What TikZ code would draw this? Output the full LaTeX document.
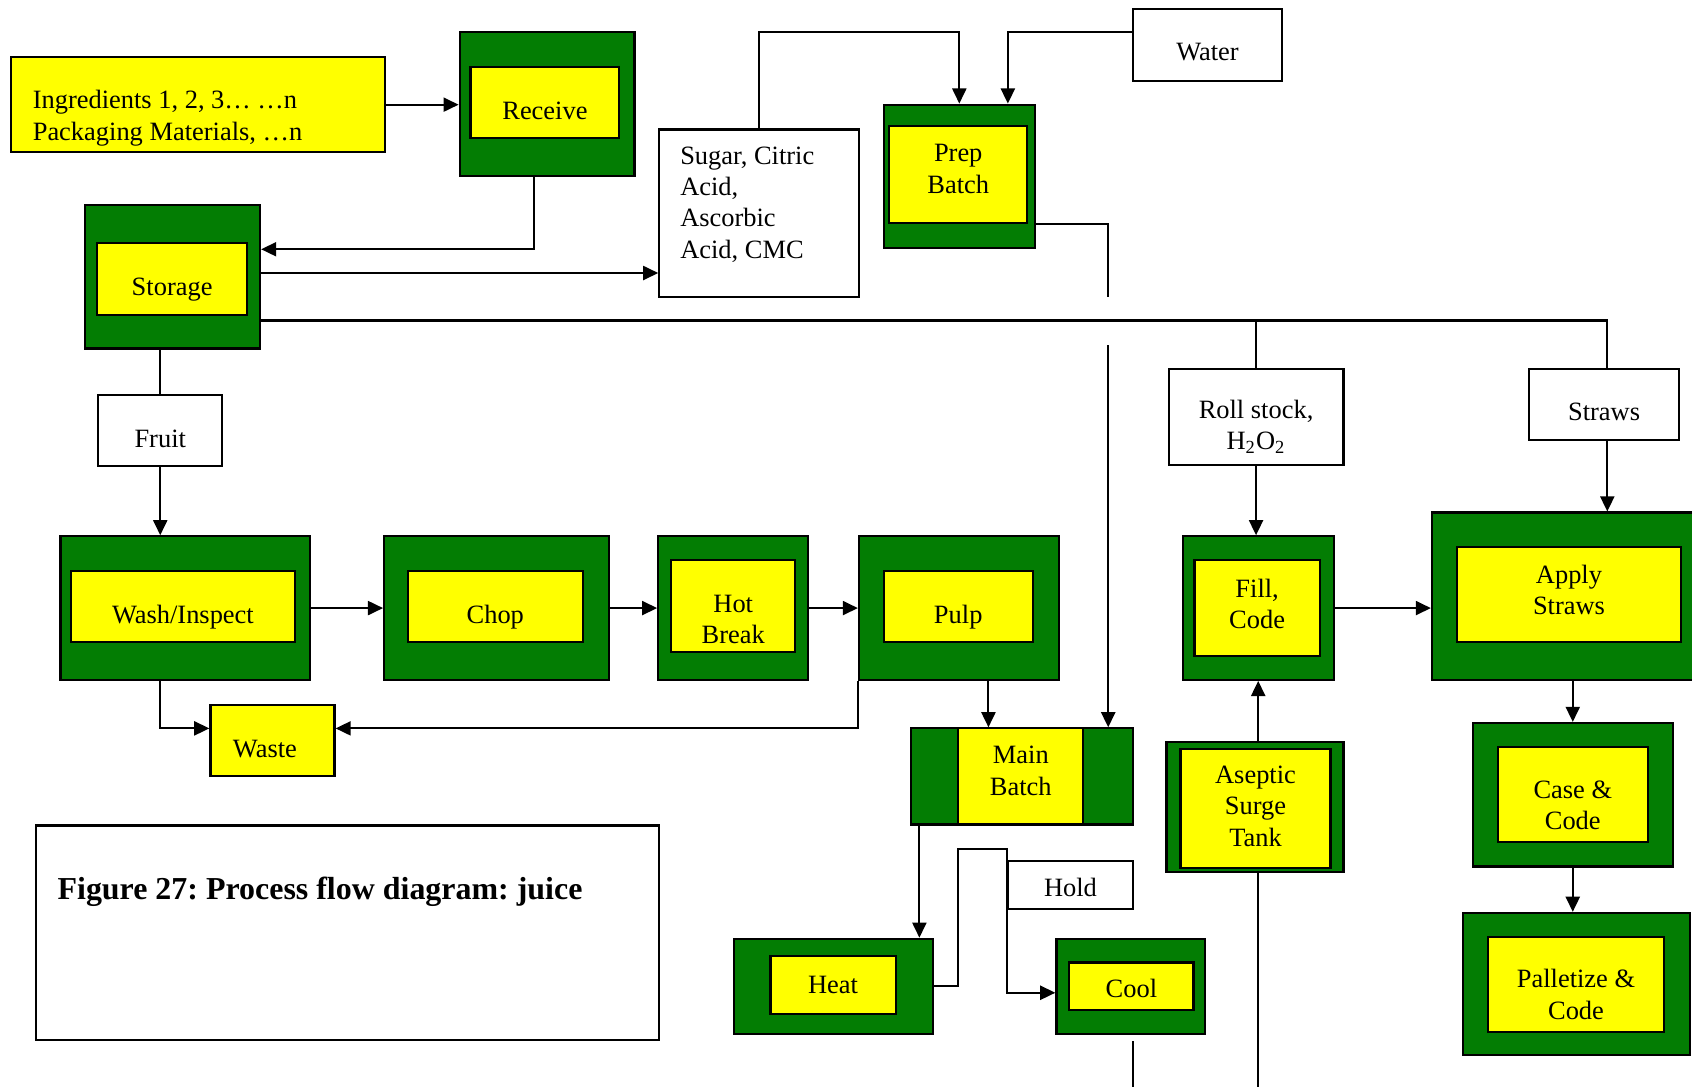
\documentclass[tikz,border=0pt]{standalone}
\usepackage{fontspec}
\setmainfont{Liberation Serif}
\usetikzlibrary{arrows.meta}
\frenchspacing
\definecolor{grn}{RGB}{3,125,3}
\definecolor{ylw}{RGB}{255,255,0}
\newcommand\mkbox[6]{%
 \pgfmathsetmacro\mkcx{(#3+#5)/2}%
 \pgfmathsetmacro\mkcy{(#4+#6)/2}%
 \pgfmathsetmacro\mkw{(#5-#3)/2}%
 \pgfmathsetmacro\mkh{(#6-#4)/2}%
 \node[#1, minimum width=\mkw pt, minimum height=\mkh pt] (#2) at (\mkcx,\mkcy) {};}
\newcommand\mkboxt[8]{%
 \pgfmathsetmacro\mkcx{(#3+#5)/2}%
 \pgfmathsetmacro\mkcy{(#4+#6)/2}%
 \pgfmathsetmacro\mkw{(#5-#3)/2}%
 \pgfmathsetmacro\mkh{(#6-#4)/2}%
 \node[#1, minimum width=\mkw pt, minimum height=\mkh pt, label={[lab,yshift=#8pt]center:{#7}}] (#2) at (\mkcx,\mkcy) {};}
\tikzset{
 outer/.style={draw=black, fill=grn, line width=1pt, inner sep=0pt},
 inner/.style={draw=black, fill=ylw, line width=1pt, inner sep=0pt},
 wbox/.style={draw=black, fill=white, line width=1pt, inner sep=0pt},
 lab/.style={align=center, inner sep=0pt, text=black},
 ln/.style={line width=0.95pt},
 arr/.style={line width=0.95pt, -{Triangle[length=7pt,width=6.5pt]}},
}
\begin{document}
\begin{tikzpicture}[x=0.5pt, y=-0.5pt, font=\fontsize{12.25}{14.5}\selectfont]
\useasboundingbox (0,0) rectangle (1568,1007);
% outer green boxes
\mkbox{outer}{recv}{426}{30}{588}{163}
\mkbox{outer}{stor}{79}{190}{241}{323}
\mkbox{outer}{prep}{819}{97}{959}{230}
\mkbox{outer}{wash}{56}{497}{287}{630}
\mkbox{outer}{chop}{356}{497}{564}{630}
\mkbox{outer}{hot}{610}{497}{749}{630}
\mkbox{outer}{pulp}{796}{497}{981}{630}
\mkbox{outer}{main}{844}{675}{1050}{764}
\mkbox{outer}{heat}{680}{870}{865}{958}
\mkbox{outer}{cool}{979}{870}{1117}{958}
\mkbox{outer}{asep}{1081}{688}{1245}{808}
\mkbox{outer}{fill}{1096}{497}{1236}{630}
\mkbox{outer}{apply}{1327}{475}{1575}{630}
\mkbox{outer}{case}{1365}{670}{1550}{803}
\mkbox{outer}{pallet}{1356}{846}{1566}{978}
% inner yellow boxes
\mkboxt{inner}{recvI}{436}{62}{574}{128}{Receive}{-4}
\mkboxt{inner}{storI}{90}{225}{229}{292}{Storage}{-4.75}
\mkboxt{inner}{prepI}{824}{117}{952}{207}{Prep\\Batch}{2.75}
\mkboxt{inner}{washI}{66}{529}{273}{595}{Wash/Inspect}{-5}
\mkboxt{inner}{chopI}{378}{529}{540}{595}{Chop}{-5}
\mkboxt{inner}{hotI}{622}{519}{737}{604}{Hot\\Break}{-6.25}
\mkboxt{inner}{pulpI}{819}{529}{957}{595}{Pulp}{-5}
\mkboxt{inner}{mainI}{888}{675}{1004}{764}{Main\\Batch}{2.5}
\mkboxt{inner}{heatI}{714}{886}{830}{940}{Heat}{0}
\mkboxt{inner}{coolI}{991}{892}{1106}{936}{Cool}{-1}
\mkboxt{inner}{asepI}{1094}{694}{1233}{804}{Aseptic\\Surge\\Tank}{1}
\mkboxt{inner}{fillI}{1107}{519}{1223}{608}{Fill,\\Code}{2}
\mkboxt{inner}{applyI}{1350}{507}{1558}{595}{Apply\\Straws}{2.25}
\mkboxt{inner}{caseI}{1388}{692}{1527}{780}{Case \&\\Code}{-5}
\mkboxt{inner}{palletI}{1379}{868}{1542}{956}{Palletize \&\\Code}{-4.75}
% plain boxes
\mkbox{inner}{ingr}{10}{53}{357}{141}
\node[anchor=west, align=left, inner sep=0pt] (ingrT) at (30,109.5) {Ingredients 1, 2, 3… …n\\Packaging Materials, …n};
\mkbox{wbox}{sugar}{611}{120}{796}{275}
\node[anchor=west, align=left, inner sep=0pt] (sugarT) at (630,189.5) {Sugar, Citric\\Acid,\\Ascorbic\\Acid, CMC};
\mkboxt{wbox}{water}{1050}{8}{1188}{75}{Water}{-3.25}
\mkboxt{wbox}{fruit}{91}{366}{206}{432}{Fruit}{-4}
\node[draw=black, fill=ylw, line width=1pt, inner sep=0pt, minimum width=57.5pt, minimum height=33pt,
  label={[lab,yshift=-4pt,xshift=-3.5pt]center:Waste}] (waste) at (252.5,686) {};
\mkboxt{wbox}{hold}{934}{798}{1050}{842}{Hold}{-1}
\mkboxt{wbox}{roll}{1083}{342}{1245}{431}{Roll stock,\\H\textsubscript{2}O\textsubscript{2}}{-4.5}
\mkboxt{wbox}{straws}{1417}{342}{1556}{408}{Straws}{-3.5}
\mkbox{wbox}{capbox}{33}{765}{611}{964}
\node[anchor=west, inner sep=0pt, font=\fontsize{14.8}{17}\selectfont\bfseries] (capT) at (53,826) {Figure 27: Process flow diagram: juice};
% connectors
\draw[arr] (ingr.east) -- (ingr.east -| recv.west);
\draw[arr] ([xshift=-6pt]recv.south) |- ([yshift=12.75pt]stor.east);
\path ([yshift=1.75pt]stor.east) coordinate (s1);
\draw[arr] (s1) -- (s1 -| sugar.west);
\coordinate (t1) at (889,30);
\draw[arr] (sugar.north) |- (t1) -- (prep.north);
\draw[arr] ([yshift=5.75pt]water.west) -| ([xshift=22.5pt]prep.north);
\path ([yshift=-22.25pt]prep.east) coordinate (pb);
\coordinate (g1) at (1027,275);
\coordinate (g2) at (1027,320);
\draw[ln] (pb) -| (g1);
\draw[arr] (g2) -- (g2 |- main.north);
\path ([yshift=-20.25pt]stor.east) coordinate (s2);
\path ([xshift=1.5pt]straws.north) coordinate (sn);
\path ([xshift=1.5pt]straws.south) coordinate (ss);
\draw[ln] (s2) -| (sn);
\draw[ln] (s2 -| roll.north) -- (roll.north);
\draw[arr] (ss) -- (ss |- apply.north);
\draw[arr] (roll.south) -- (roll.south |- fill.north);
\draw[ln] (fruit.north |- stor.south) -- (fruit.north);
\draw[arr] (fruit.south) -- (fruit.south |- wash.north);
\draw[arr] (wash.east) -- (chop.west);
\draw[arr] (chop.east) -- (hot.west);
\draw[arr] (hot.east) -- (pulp.west);
\draw[arr] (wash.south -| fruit.south) |- ([yshift=5.5pt]waste.west);
\draw[arr] (pulp.south west) |- ([yshift=5.5pt]waste.east);
\path ([xshift=13.75pt]pulp.south) coordinate (p1);
\draw[arr] (p1) -- (p1 |- main.north);
\path ([xshift=4.5pt]main.south west) coordinate (m1);
\draw[arr] (m1) -- (m1 |- heat.north);
\coordinate (h1) at (888,787);
\path ([yshift=-3pt]cool.west) coordinate (c1);
\draw[arr] (heat.east) -| (h1) -| (c1 -| hold.west) -- (c1);
\draw[ln] ([xshift=1pt,yshift=-3pt]cool.south) -- ++(0,60);
\draw[arr] (fill.south |- asep.north) -- (fill.south);
\draw[ln] (fill.south |- asep.south) -- ++(0,220);
\draw[arr] (fill.east) -- (fill.east -| apply.west);
\draw[arr] (case.north |- apply.south) -- (case.north);
\draw[arr] (case.south) -- (case.south |- pallet.north);
\end{tikzpicture}
\end{document}
